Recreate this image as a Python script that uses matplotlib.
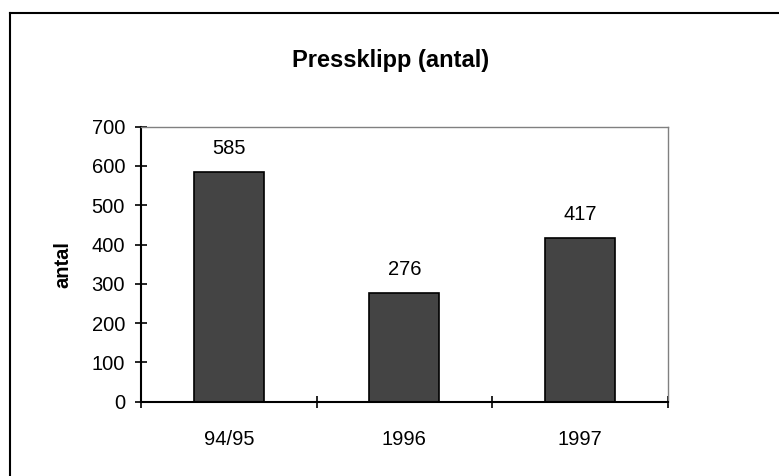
import matplotlib.pyplot as plt
import matplotlib.lines as mlines

plt.rcParams['font.family'] = ['Liberation Sans', 'DejaVu Sans']

categories = ["94/95", "1996", "1997"]
values = [585, 276, 417]

fig = plt.figure(figsize=(7.79, 4.76), dpi=100)
ax = fig.add_axes([0.181, 0.156, 0.676, 0.578])

x = range(len(categories))
bars = ax.bar(x, values, width=0.4, color="#444444", edgecolor="black", linewidth=1.2)
for xi, v in zip(x, values):
    ax.annotate(str(v), (xi, v), xytext=(0, 10), textcoords="offset points",
                ha="center", va="bottom", fontsize=14.5)

ax.set_xlim(-0.5, 2.5)
ax.set_ylim(0, 700)
ax.set_yticks(range(0, 701, 100))
ax.tick_params(axis="y", direction="inout", length=9, width=1.2, labelsize=14.5, pad=7)
ax.set_xticks(list(x))
ax.set_xticklabels(categories)
ax.set_xticks([-0.5, 0.5, 1.5, 2.5], minor=True)
ax.tick_params(axis="x", which="major", length=0, labelsize=14.5, pad=20)
ax.tick_params(axis="x", which="minor", direction="inout", length=9, width=1.2)

for s in ["top", "right"]:
    ax.spines[s].set_color("#808080")
    ax.spines[s].set_linewidth(1.0)
for s in ["left", "bottom"]:
    ax.spines[s].set_color("black")
    ax.spines[s].set_linewidth(1.5)

ax.set_ylabel("antal", fontweight="bold", fontsize=14.5, labelpad=14)
fig.text(0.501, 0.873, "Pressklipp (antal)", ha="center", va="center",
         fontweight="bold", fontsize=17)

# chart frame (top and left edges visible)
fig.add_artist(mlines.Line2D([9.5/779, 1.0], [1 - 12.5/476] * 2, color="black", lw=1.5,
                             transform=fig.transFigure))
fig.add_artist(mlines.Line2D([9.5/779] * 2, [0.0, 1 - 12.5/476], color="black", lw=1.5,
                             transform=fig.transFigure))

fig.savefig("out.png", dpi=100)
